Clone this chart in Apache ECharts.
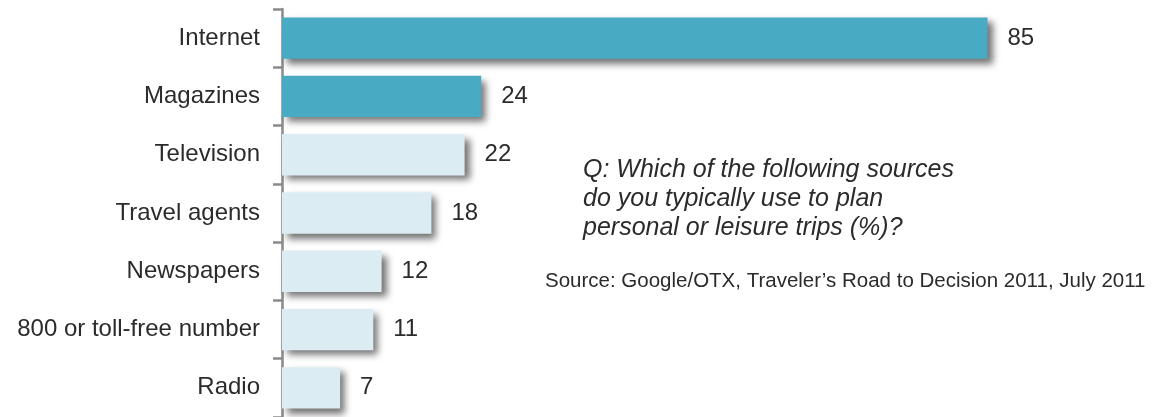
<!DOCTYPE html>
<html><head><meta charset="utf-8">
<script src="https://cdn.jsdelivr.net/npm/echarts@6/dist/echarts.min.js"></script>
<style>html,body{margin:0;padding:0;background:#fff}#c{width:1153px;height:417px}</style>
</head><body><div id="c"></div>
<script>
const categories = ["Internet","Magazines","Television","Travel agents","Newspapers","800 or toll-free number","Radio"];
const values = [85,24,22,18,12,11,7];
const highlighted = [true,true,false,false,false,false,false];
const question = ["Q: Which of the following sources","do you typically use to plan","personal or leisure trips (%)?"];
const source = "Source: Google/OTX, Traveler\u2019s Road to Decision 2011, July 2011";

const chart = echarts.init(document.getElementById('c'));
chart.setOption({
  animation:false,
  grid:{left:282, top:9, width:830, height:409.5, containLabel:false},
  xAxis:{type:'value', min:0, max:100, show:false},
  yAxis:{type:'category', inverse:true, data:categories,
    axisLine:{lineStyle:{color:'#8a8a8a', width:2.5}},
    axisTick:{show:true, length:9, lineStyle:{color:'#8a8a8a', width:2.5}},
    axisLabel:{color:'#2b2b2b', fontSize:24, fontFamily:'Liberation Sans', margin:22, padding:[4,0,0,0]}
  },
  series:[{type:'bar', barCategoryGap:'29%',
    data: values.map((v,i)=>({value:v, itemStyle:{color: highlighted[i]?'#49aac4':'#dbecf2'}})),
    itemStyle:{shadowColor:'rgba(0,0,0,0.55)', shadowBlur:7, shadowOffsetX:5, shadowOffsetY:5},
    label:{show:true, position:'right', distance:20, color:'#2b2b2b', fontSize:24, fontFamily:'Liberation Sans', padding:[4,0,0,0]}
  }],
  graphic:[
    {type:'text', left:583, top:156, style:{text:question.join('\n'), font:'italic 25px "Liberation Sans"', fill:'#2b2b2b', lineHeight:29}},
    {type:'text', left:545, top:271, style:{text:source, font:'20.5px "Liberation Sans"', fill:'#2b2b2b'}}
  ]
});
</script></body></html>
